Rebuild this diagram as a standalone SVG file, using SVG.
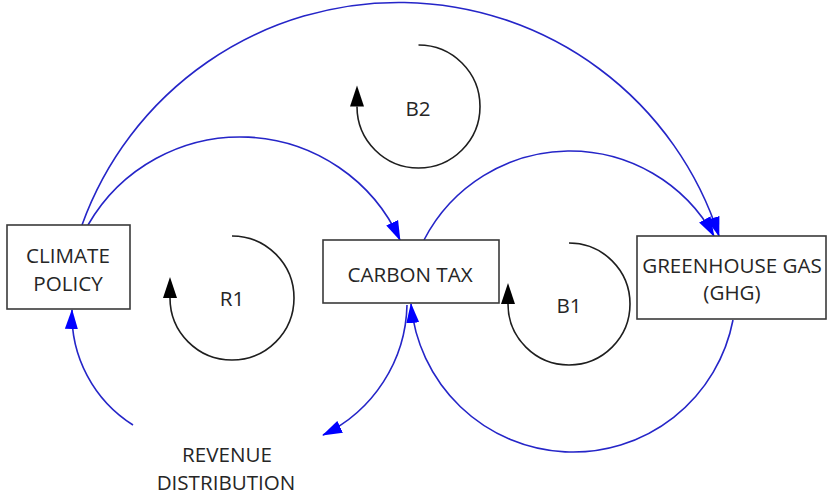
<svg xmlns="http://www.w3.org/2000/svg" width="827" height="496" viewBox="0 0 827 496">
  <style>
    .box { fill: #ffffff; stroke: #3a3a3a; stroke-width: 1.6; }
    .lbl { font-family: "Open Sans", "Liberation Sans", sans-serif; font-size: 20.6px; fill: #262626; text-anchor: middle; }
    .link { fill: none; stroke: #2525c8; stroke-width: 1.6; marker-end: url(#blueHead); }
    .loop { fill: none; stroke: #1e1e1e; stroke-width: 1.6; marker-end: url(#blackHead); }
  </style>
  <defs>
    <!-- blue arrowhead: tip sits on the path end -->
    <marker id="blueHead" markerUnits="userSpaceOnUse" markerWidth="20" markerHeight="14" viewBox="0 0 20 14" refX="19" refY="7" orient="auto">
      <path d="M0,0.5 L20,7 L0,13.5 Z" fill="#0000ff"/>
    </marker>
    <!-- black loop arrowhead: base sits on the path end -->
    <marker id="blackHead" markerUnits="userSpaceOnUse" markerWidth="22" markerHeight="15" viewBox="0 0 22 15" refX="0" refY="7.5" orient="auto">
      <path d="M0,0.5 L21,7.5 L0,14.5 Z" fill="#000000"/>
    </marker>
  </defs>

  <rect width="827" height="496" fill="#ffffff"/>

  <!-- causal links -->
  <g id="connectors">
    <path class="link" d="M82,225 A336.5,336.5 0 0 1 719,236"/>
    <path class="link" d="M88,225 A175.5,175.5 0 0 1 400,240"/>
    <path class="link" d="M424,240 A164.4,164.4 0 0 1 714,236"/>
    <path class="link" d="M733,320 A162.8,162.8 0 0 1 411,304"/>
    <path class="link" d="M407,305 A147.7,147.7 0 0 1 323,435"/>
    <path class="link" d="M133,425 A130.9,130.9 0 0 1 72,310"/>
  </g>

  <!-- loop markers -->
  <g id="loop-B2">
    <path class="loop" d="M418.5,45 A61.5,61.5 0 1 1 357,106.5"/>
    <text class="lbl" x="418" y="116">B2</text>
  </g>
  <g id="loop-R1">
    <path class="loop" d="M232,236 A62,62 0 1 1 170,298"/>
    <text class="lbl" x="232" y="306">R1</text>
  </g>
  <g id="loop-B1">
    <path class="loop" d="M569,243 A61,61 0 1 1 508,304"/>
    <text class="lbl" x="569" y="313">B1</text>
  </g>

  <!-- variables -->
  <g id="climate-policy">
    <rect class="box" x="7" y="225" width="123" height="84"/>
    <text class="lbl" x="68" y="263">CLIMATE</text>
    <text class="lbl" x="68" y="291">POLICY</text>
  </g>
  <g id="carbon-tax">
    <rect class="box" x="323" y="240" width="176" height="63"/>
    <text class="lbl" x="410" y="282">CARBON TAX</text>
  </g>
  <g id="greenhouse-gas">
    <rect class="box" x="637" y="236" width="189" height="83"/>
    <text class="lbl" x="732" y="273">GREENHOUSE GAS</text>
    <text class="lbl" x="732" y="300">(GHG)</text>
  </g>
  <g id="revenue-distribution">
    <text class="lbl" x="227" y="462">REVENUE</text>
    <text class="lbl" x="226" y="490">DISTRIBUTION</text>
  </g>
</svg>
